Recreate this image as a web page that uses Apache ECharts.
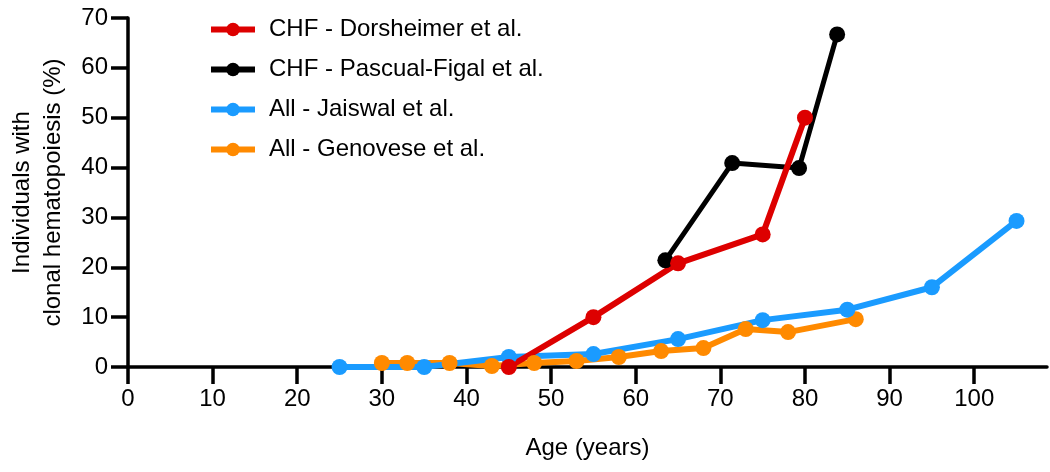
<!DOCTYPE html>
<html><head><meta charset="utf-8">
<script src="https://cdn.jsdelivr.net/npm/echarts@6/dist/echarts.min.js"></script>
<style>html,body{margin:0;padding:0;background:#fff}#c{width:1050px;height:472px}</style>
</head><body><div id="c"></div>
<script>
const seriesNames = ['CHF - Dorsheimer et al.', 'CHF - Pascual-Figal et al.', 'All - Jaiswal et al.', 'All - Genovese et al.'];
const dorsheimerAge = [45, 55, 65, 75, 80];
const dorsheimerPct = [0, 10, 20.8, 26.6, 50];
const pascualAge = [63.5, 71.4, 79.3, 83.8];
const pascualPct = [21.4, 40.9, 39.9, 66.7];
const jaiswalAge = [25, 35, 45, 55, 65, 75, 85, 95, 105];
const jaiswalPct = [0, 0, 2.0, 2.6, 5.6, 9.4, 11.5, 16.0, 29.3];
const genoveseAge = [30, 33, 38, 43, 48, 53, 58, 63, 68, 73, 78, 86];
const genovesePct = [0.8, 0.8, 0.8, 0.2, 0.8, 1.2, 2.0, 3.2, 3.8, 7.6, 7.0, 9.6];
const colors = ['#dd0000', '#000000', '#1a9bff', '#ff8a00'];

const pairs = (xs, ys) => xs.map((x, i) => [x, ys[i]]);
const FONT = '"Liberation Sans", Arial, sans-serif';

function mk(name, data, color, width) {
  return {
    name, type: 'line', data, symbol: 'circle', symbolSize: 16,
    lineStyle: { color, width }, itemStyle: { color },
    emphasis: { disabled: true }, animation: false, clip: false
  };
}

const chart = echarts.init(document.getElementById('c'), null, { renderer: 'canvas' });
chart.setOption({
  animation: false,
  textStyle: { fontFamily: FONT, color: '#000' },
  grid: { left: 128, right: 3, top: 18, bottom: 105, containLabel: false, outerBoundsMode: 'none' },
  legend: {
    orient: 'vertical', left: 203, top: 11, itemWidth: 44, itemHeight: 17, itemGap: 13,
    data: seriesNames,
    lineStyle: { width: 6 },
    textStyle: { fontFamily: FONT, fontSize: 24, lineHeight: 27, color: '#000', padding: [0, 0, 0, 9] }
  },
  xAxis: {
    type: 'value', min: 0, max: 108.6, interval: 10,
    name: 'Age (years)', nameLocation: 'middle', nameGap: 69,
    nameTextStyle: { fontFamily: FONT, fontSize: 24, color: '#000' },
    axisLine: { show: true, onZero: false, lineStyle: { color: '#000', width: 3.5 } },
    axisTick: { show: true, inside: false, length: 17, lineStyle: { color: '#000', width: 3.5 } },
    axisLabel: { fontFamily: FONT, fontSize: 24, color: '#000', margin: 20, showMaxLabel: false },
    splitLine: { show: false }
  },
  yAxis: {
    type: 'value', min: 0, max: 70, interval: 10,
    name: 'Individuals with\nclonal hematopoiesis (%)', nameLocation: 'middle', nameRotate: 90, nameGap: 59,
    nameTextStyle: { fontFamily: FONT, fontSize: 24, color: '#000', lineHeight: 31, align: 'center' },
    axisLine: { show: true, onZero: false, lineStyle: { color: '#000', width: 3.5 } },
    axisTick: { show: true, inside: false, length: 17, lineStyle: { color: '#000', width: 3.5 } },
    axisLabel: { fontFamily: FONT, fontSize: 24, color: '#000', margin: 20 },
    splitLine: { show: false }
  },
  series: [
    mk(seriesNames[3], pairs(genoveseAge, genovesePct), colors[3], 6),
    mk(seriesNames[2], pairs(jaiswalAge, jaiswalPct), colors[2], 6),
    mk(seriesNames[1], pairs(pascualAge, pascualPct), colors[1], 5),
    mk(seriesNames[0], pairs(dorsheimerAge, dorsheimerPct), colors[0], 6)
  ]
});
</script></body></html>
